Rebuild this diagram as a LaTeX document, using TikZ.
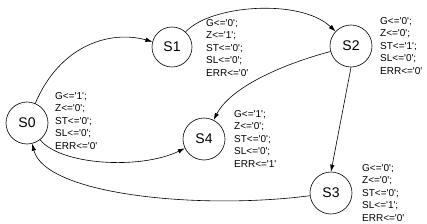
\documentclass[tikz,border=0pt]{standalone}
\usepackage{fontspec}
\setmainfont{Liberation Sans}
\usepackage{tikz}
\usetikzlibrary{arrows.meta}
\newcommand{\sq}{\textquotesingle}

\begin{document}
\begin{tikzpicture}[
    x=1pt, y=-1pt,
    state/.style={draw, circle, line width=0.6pt, minimum size=42pt,
      inner sep=0pt, font=\fontsize{14}{16}\selectfont},
    lbl/.style={anchor=west, align=left, inner sep=0pt,
      font=\fontsize{10}{12.5}\selectfont},
    arrow/.style={line width=0.6pt, -{Latex[length=7pt,width=4.5pt]}}
]
\useasboundingbox (0,0) rectangle (427,224);
\node[state] (s0) at (27,123) {S0};
\node[state, minimum size=40pt] (s1) at (172,47) {S1};
\node[state] (s2) at (351,46) {S2};
\node[state] (s3) at (331,193) {S3};
\node[state] (s4) at (204,139) {S4};

\node[lbl] (l0) at (55,121) {G<=\sq1\sq;\\Z<=\sq0\sq;\\ST<=\sq0\sq;\\SL<=\sq0\sq;\\ERR<=\sq0\sq};
\node[lbl] (l1) at (206,48) {G<=\sq0\sq;\\Z<=\sq1\sq;\\ST<=\sq0\sq;\\SL<=\sq0\sq;\\ERR<=\sq0\sq};
\node[lbl] (l2) at (380,46) {G<=\sq0\sq;\\Z<=\sq0\sq;\\ST<=\sq1\sq;\\SL<=\sq0\sq;\\ERR<=\sq0\sq};
\node[lbl] (l4) at (234,139) {G<=\sq1\sq;\\Z<=\sq0\sq;\\ST<=\sq0\sq;\\SL<=\sq0\sq;\\ERR<=\sq1\sq};
\node[lbl] (l3) at (362,193) {G<=\sq0\sq;\\Z<=\sq0\sq;\\ST<=\sq0\sq;\\SL<=\sq1\sq;\\ERR<=\sq0\sq};

\draw[arrow] (s0) .. controls (60,45) and (110,30) .. (s1);
\draw[arrow] (s1) .. controls (210,5) and (300,-2) .. (s2);
\draw[arrow] (s2) .. controls (280,65) and (230,88) .. (s4);
\draw[arrow] (s2.south) -- (s3.north);
\draw[arrow] (s3) .. controls (200,210) and (45,195) .. (s0);
\draw[arrow] (s0) .. controls (60,165) and (140,170) .. (s4);
\end{tikzpicture}
\end{document}
